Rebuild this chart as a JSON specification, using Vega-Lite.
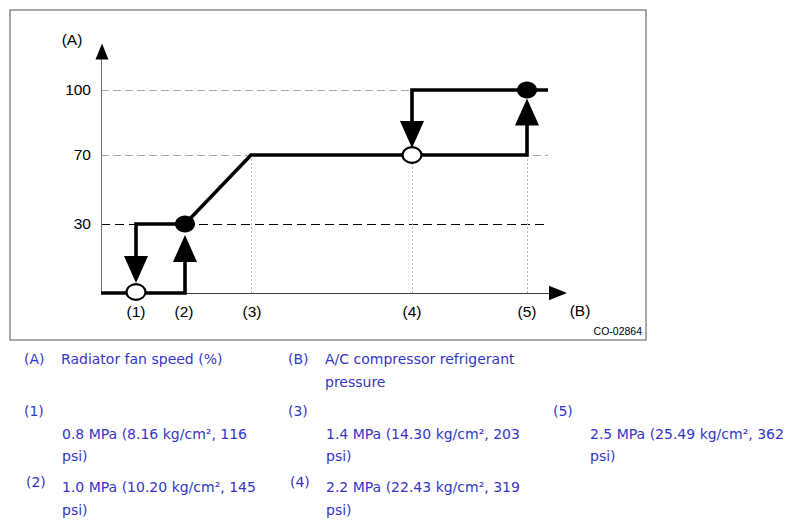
{
  "$schema": "https://vega.github.io/schema/vega-lite/v6.json",
  "width": 796,
  "height": 528,
  "autosize": {"type": "fit", "contains": "padding"},
  "padding": 0,
  "background": "white",
  "config": {"view": {"stroke": null}},
  "datasets": {
    "frame": [{"x": 10, "x2": 646, "y": 10, "y2": 340}],
    "grayGrid": [
      {"x": 101, "x2": 548, "y": 90.5},
      {"x": 101, "x2": 548, "y": 155.5}
    ],
    "blackGrid": [{"x": 101, "x2": 548, "y": 224.5}],
    "dotted": [
      {"x": 251.5, "y": 155, "y2": 293},
      {"x": 412.5, "y": 155, "y2": 293},
      {"x": 527.5, "y": 155, "y2": 293}
    ],
    "yAxisLine": [{"x": 101.5, "y": 58, "y2": 293}],
    "xAxisLine": [{"x": 101, "x2": 552, "y": 293.5}],
    "paths": [
      {"seg": "a", "i": 0, "x": 101, "y": 293},
      {"seg": "a", "i": 1, "x": 185, "y": 293},
      {"seg": "a", "i": 2, "x": 185, "y": 250},
      {"seg": "b", "i": 0, "x": 136, "y": 262},
      {"seg": "b", "i": 1, "x": 136, "y": 224},
      {"seg": "b", "i": 2, "x": 185, "y": 224},
      {"seg": "b", "i": 3, "x": 251, "y": 155},
      {"seg": "b", "i": 4, "x": 527, "y": 155},
      {"seg": "b", "i": 5, "x": 527, "y": 115},
      {"seg": "c", "i": 0, "x": 412, "y": 130},
      {"seg": "c", "i": 1, "x": 412, "y": 90},
      {"seg": "c", "i": 2, "x": 548, "y": 90}
    ],
    "downArrows": [{"x": 136, "y": 269.5}, {"x": 412, "y": 134.5}],
    "upArrows": [{"x": 185, "y": 248.5}, {"x": 527, "y": 112}],
    "yArrow": [{"x": 102, "y": 51.5}],
    "xArrow": [{"x": 558, "y": 293}],
    "openDots": [{"x": 136, "y": 292}, {"x": 412, "y": 155}],
    "filledDots": [{"x": 185, "y": 224}, {"x": 527, "y": 90}],
    "tickLabels": [
      {"x": 91, "y": 90, "t": "100"},
      {"x": 91, "y": 155, "t": "70"},
      {"x": 91, "y": 224, "t": "30"}
    ],
    "centerLabels": [
      {"x": 72, "y": 40, "t": "(A)"},
      {"x": 136, "y": 312, "t": "(1)"},
      {"x": 184, "y": 312, "t": "(2)"},
      {"x": 252, "y": 312, "t": "(3)"},
      {"x": 412, "y": 312, "t": "(4)"},
      {"x": 527, "y": 312, "t": "(5)"},
      {"x": 580, "y": 311, "t": "(B)"}
    ],
    "code": [{"x": 642, "y": 332, "t": "CO-02864"}],
    "legend": [
      {"x": 24, "y": 360, "t": "(A)"},
      {"x": 61, "y": 360, "t": "Radiator fan speed (%)"},
      {"x": 288, "y": 360, "t": "(B)"},
      {"x": 325, "y": 360, "t": "A/C compressor refrigerant"},
      {"x": 325, "y": 383, "t": "pressure"},
      {"x": 24, "y": 412, "t": "(1)"},
      {"x": 62, "y": 435, "t": "0.8 MPa (8.16 kg/cm², 116"},
      {"x": 62, "y": 457, "t": "psi)"},
      {"x": 288, "y": 412, "t": "(3)"},
      {"x": 326, "y": 435, "t": "1.4 MPa (14.30 kg/cm², 203"},
      {"x": 326, "y": 457, "t": "psi)"},
      {"x": 553, "y": 412, "t": "(5)"},
      {"x": 590, "y": 435, "t": "2.5 MPa (25.49 kg/cm², 362"},
      {"x": 590, "y": 457, "t": "psi)"},
      {"x": 26, "y": 483, "t": "(2)"},
      {"x": 62, "y": 488, "t": "1.0 MPa (10.20 kg/cm², 145"},
      {"x": 62, "y": 511, "t": "psi)"},
      {"x": 290, "y": 483, "t": "(4)"},
      {"x": 326, "y": 488, "t": "2.2 MPa (22.43 kg/cm², 319"},
      {"x": 326, "y": 511, "t": "psi)"}
    ]
  },
  "encoding": {
    "x": {"field": "x", "type": "quantitative", "scale": {"domain": [0, 796], "nice": false, "zero": false}, "axis": null},
    "y": {"field": "y", "type": "quantitative", "scale": {"domain": [0, 528], "nice": false, "zero": false, "reverse": true}, "axis": null}
  },
  "layer": [
    {
      "data": {"name": "frame"},
      "mark": {"type": "rect", "fill": "white", "stroke": "#8a8a8a", "strokeWidth": 1.5},
      "encoding": {"x2": {"field": "x2"}, "y2": {"field": "y2"}}
    },
    {
      "data": {"name": "grayGrid"},
      "mark": {"type": "rule", "color": "#a6a6a6", "strokeWidth": 1, "strokeDash": [8, 4]},
      "encoding": {"x2": {"field": "x2"}}
    },
    {
      "data": {"name": "blackGrid"},
      "mark": {"type": "rule", "color": "#000000", "strokeWidth": 1, "strokeDash": [9, 5]},
      "encoding": {"x2": {"field": "x2"}}
    },
    {
      "data": {"name": "dotted"},
      "mark": {"type": "rule", "color": "#b0b0b0", "strokeWidth": 1, "strokeDash": [2, 2]},
      "encoding": {"y2": {"field": "y2"}}
    },
    {
      "data": {"name": "yAxisLine"},
      "mark": {"type": "rule", "color": "#707070", "strokeWidth": 1},
      "encoding": {"y2": {"field": "y2"}}
    },
    {
      "data": {"name": "xAxisLine"},
      "mark": {"type": "rule", "color": "#404040", "strokeWidth": 1},
      "encoding": {"x2": {"field": "x2"}}
    },
    {
      "data": {"name": "paths"},
      "mark": {"type": "line", "color": "#000000", "strokeWidth": 3.6, "strokeJoin": "miter", "strokeCap": "butt"},
      "encoding": {"detail": {"field": "seg", "type": "nominal"}, "order": {"field": "i", "type": "quantitative"}}
    },
    {
      "data": {"name": "downArrows"},
      "mark": {"type": "point", "shape": "M-0.89,-1L0.89,-1L0,1Z", "size": 729, "filled": true, "color": "#000000", "opacity": 1},
      "encoding": {}
    },
    {
      "data": {"name": "upArrows"},
      "mark": {"type": "point", "shape": "M-0.89,1L0.89,1L0,-1Z", "size": 729, "filled": true, "color": "#000000", "opacity": 1},
      "encoding": {}
    },
    {
      "data": {"name": "yArrow"},
      "mark": {"type": "point", "shape": "M-0.81,1L0.81,1L0,-1Z", "size": 256, "filled": true, "color": "#000000", "opacity": 1},
      "encoding": {}
    },
    {
      "data": {"name": "xArrow"},
      "mark": {"type": "point", "shape": "M-1,-0.8L-1,0.8L1,0Z", "size": 324, "filled": true, "color": "#000000", "opacity": 1},
      "encoding": {}
    },
    {
      "data": {"name": "openDots"},
      "mark": {"type": "point", "shape": "M-1,0A1,0.82,0,1,0,1,0A1,0.82,0,1,0,-1,0Z", "size": 361, "filled": false, "fill": "white", "fillOpacity": 1, "stroke": "#000000", "strokeWidth": 2.2, "opacity": 1},
      "encoding": {}
    },
    {
      "data": {"name": "filledDots"},
      "mark": {"type": "point", "shape": "M-1,0A1,0.85,0,1,0,1,0A1,0.85,0,1,0,-1,0Z", "size": 400, "filled": true, "color": "#000000", "opacity": 1},
      "encoding": {}
    },
    {
      "data": {"name": "tickLabels"},
      "mark": {"type": "text", "font": "Liberation Sans", "fontSize": 15.5, "align": "right", "baseline": "middle", "color": "#000000"},
      "encoding": {"text": {"field": "t"}}
    },
    {
      "data": {"name": "centerLabels"},
      "mark": {"type": "text", "font": "Liberation Sans", "fontSize": 15.5, "align": "center", "baseline": "middle", "color": "#000000"},
      "encoding": {"text": {"field": "t"}}
    },
    {
      "data": {"name": "code"},
      "mark": {"type": "text", "font": "Liberation Sans", "fontSize": 10.5, "align": "right", "baseline": "middle", "color": "#000000"},
      "encoding": {"text": {"field": "t"}}
    },
    {
      "data": {"name": "legend"},
      "mark": {"type": "text", "font": "DejaVu Sans", "fontSize": 14, "align": "left", "baseline": "middle", "color": "#3535c8"},
      "encoding": {"text": {"field": "t"}}
    }
  ]
}
